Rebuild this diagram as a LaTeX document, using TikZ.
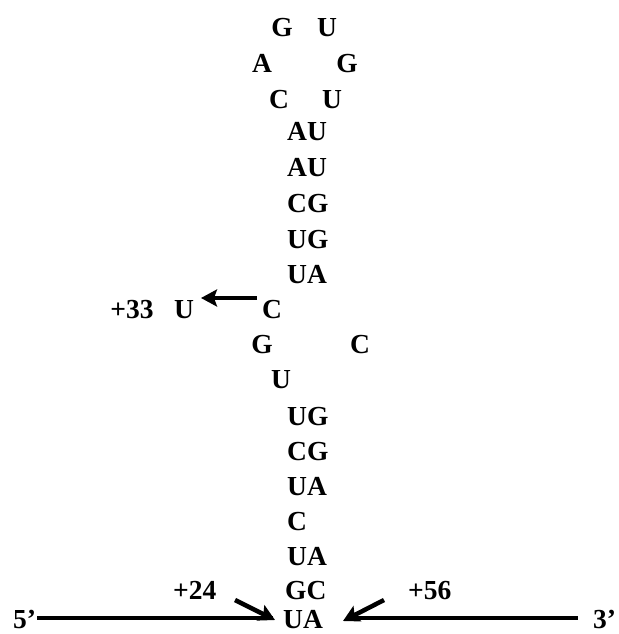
\documentclass[tikz,border=0pt]{standalone}
\usepackage{fontspec}
\setmainfont{Liberation Serif}
\usetikzlibrary{arrows.meta}
\begin{document}
\begin{tikzpicture}[x=1pt,y=-1pt,
  nt/.style={inner sep=0pt,anchor=base,font=\fontsize{27.5}{27.5}\selectfont\bfseries},
  pr/.style={nt,anchor=base west},
  strand/.style={line width=4.5pt},
  arr/.style={line width=4.5pt,-{Stealth[length=16pt,width=17pt,inset=3pt]}}]
\useasboundingbox (0,0) rectangle (618,634);
% loop
\node[nt] (g1) at (282,37) {G};
\node[nt] (u1) at (327,37) {U};
\node[nt] (a2) at (262,72) {A};
\node[nt] (g2) at (347,72) {G};
\node[nt] (c3) at (279,108) {C};
\node[nt] (u3) at (332,108) {U};
% upper stem
\node[pr] (p1) at (287,140) {AU};
\node[pr] (p2) at (287,176) {AU};
\node[pr] (p3) at (287,212) {CG};
\node[pr] (p4) at (287,248) {UG};
\node[pr] (p5) at (287,283) {UA};
% bulge
\node[nt] (cb) at (272,318) {C};
\node[nt] (u33) at (184,318) {U};
\node[nt] (l33) at (132,318) {+33};
\node[nt] (gb) at (262,353) {G};
\node[nt] (cr) at (360,353) {C};
\node[nt] (ub) at (281,388) {U};
% lower stem
\node[pr] (q1) at (287,425) {UG};
\node[pr] (q2) at (287,460) {CG};
\node[pr] (q3) at (287,495) {UA};
\node[pr] (q4) at (287,530) {C};
\node[pr] (q5) at (287,565) {UA};
\node[pr] (q6) at (285,599) {GC};
\node[pr] (q7) at (283,628) {UA};
% labels
\node[pr] (l24) at (173,599) {+24};
\node[pr] (l56) at (408,599) {+56};
\node[pr] (end5) at (13,628) {5’};
\node[pr] (end3) at (593,628) {3’};
% strands
\coordinate (s1a) at (37,618);
\coordinate (s1b) at (273,618);
\coordinate (s2a) at (347,618);
\coordinate (s2b) at (578,618);
\draw[strand] (s1a) -- (s1b);
\draw[strand] (s2a) -- (s2b);
% arrows
\coordinate (t33) at (257,298);
\coordinate (h33) at (201,298);
\draw[arr] (t33) -- (h33);
\coordinate (t24) at (235,600);
\coordinate (h24) at (275,620);
\draw[arr] (t24) -- (h24);
\coordinate (t56) at (384,600);
\coordinate (h56) at (343,621);
\draw[arr] (t56) -- (h56);
\end{tikzpicture}
\end{document}
